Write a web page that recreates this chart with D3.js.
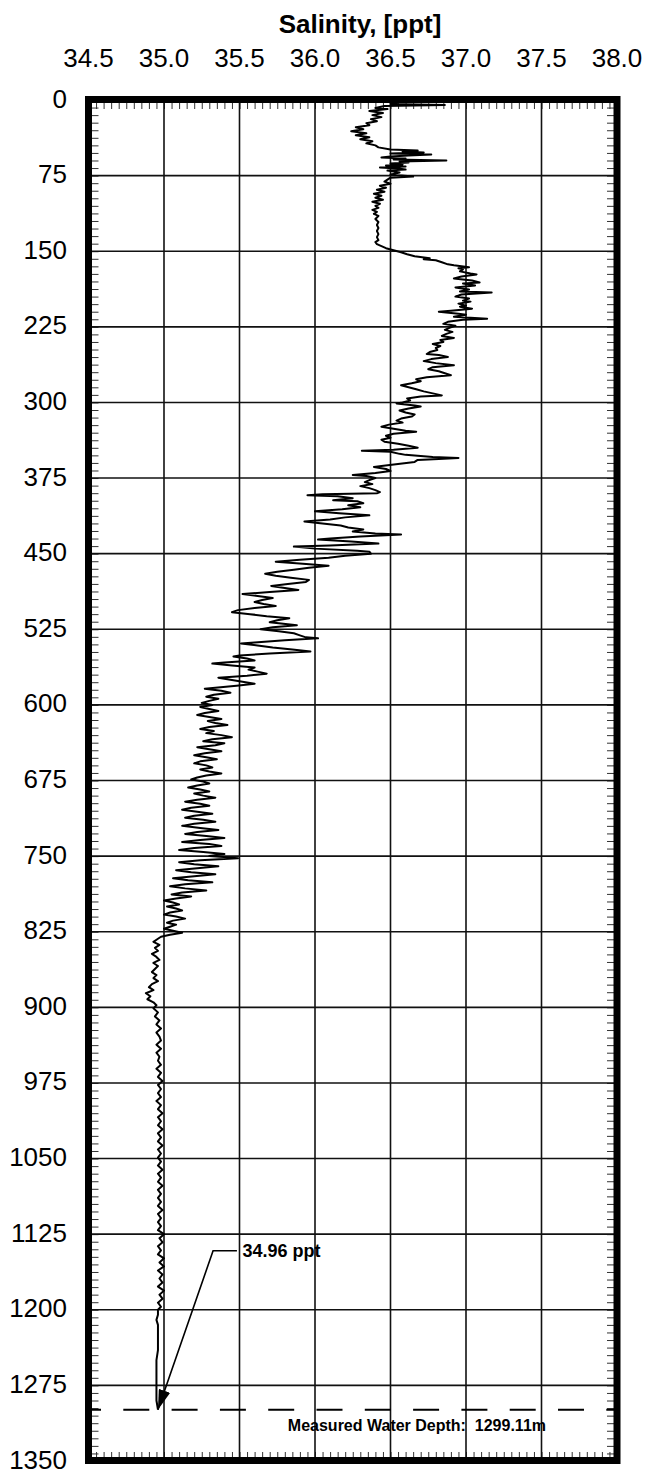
<!DOCTYPE html>
<html>
<head>
<meta charset="utf-8">
<script src="https://cdn.jsdelivr.net/npm/d3@7"></script>
<style>
  body { margin: 0; background: #fff; }
  svg { display: block; font-family: "Liberation Sans", Arial, sans-serif; }
</style>
</head>
<body>
<div id="chart"></div>
<script>
// tick labels
const xTicks = [34.5, 35.0, 35.5, 36.0, 36.5, 37.0, 37.5, 38.0];
const yTicks = [0, 75, 150, 225, 300, 375, 450, 525, 600, 675, 750, 825, 900, 975, 1050, 1125, 1200, 1275, 1350];

// CTD profile: depth (m) and salinity (ppt)
const depthM = [
  0, 2, 4, 5, 6, 8, 9, 11, 13, 15, 17, 19, 21, 23, 25, 27, 29, 31, 33, 35, 37, 39, 41, 43, 45, 47, 49,
  50, 51, 52, 53, 54, 55, 56, 57, 58, 59, 60, 61, 62, 63, 64, 65, 66, 67, 68, 69, 70, 72, 74, 76, 77, 79,
  81, 83, 85, 87, 89, 91, 93, 95, 97, 99, 101, 103, 105, 107, 109, 111, 113, 115, 118, 121, 124, 127,
  130, 133, 136, 139, 141, 143, 145, 147, 149, 151, 153, 155, 157, 158, 159, 161, 163, 164, 165, 166,
  167, 168, 170, 172, 173, 175, 177, 179, 181, 182, 184, 186, 188, 190, 191, 193, 195, 197, 199, 200,
  202, 204, 205, 207, 209, 210, 212, 213, 215, 217, 218, 220, 222, 224, 226, 228, 230, 232, 234, 236,
  238, 240, 242, 244, 246, 248, 250, 252, 253, 255, 257, 259, 261, 263, 265, 267, 269, 271, 273, 275,
  277, 279, 281, 283, 285, 287, 289, 291, 293, 294, 296, 298, 300, 301, 303, 304, 306, 308, 310, 312,
  314, 316, 318, 320, 322, 324, 326, 328, 329, 331, 333, 335, 337, 339, 341, 343, 345, 347, 348, 349,
  351, 352, 354, 355, 356, 357, 359, 361, 363, 364, 366, 368, 370, 372, 373, 375, 377, 379, 381, 383,
  385, 387, 389, 390, 391, 392, 393, 395, 397, 398, 400, 402, 404, 406, 408, 410, 412, 414, 416, 418,
  420, 422, 424, 426, 428, 430, 431, 433, 435, 436, 438, 440, 442, 443, 445, 447, 448, 450, 452, 454,
  456, 458, 460, 462, 464, 466, 468, 470, 472, 474, 476, 478, 480, 482, 484, 486, 488, 490, 492, 494,
  496, 498, 500, 502, 504, 506, 508, 510, 512, 514, 516, 518, 520, 521, 523, 525, 527, 529, 531, 533,
  534, 536, 538, 539, 541, 543, 545, 547, 549, 551, 552, 554, 556, 558, 559, 561, 563, 565, 567, 569,
  571, 573, 575, 577, 579, 581, 583, 584, 586, 588, 590, 592, 594, 596, 598, 600, 602, 604, 606, 608,
  610, 612, 614, 616, 618, 620, 622, 624, 626, 628, 630, 632, 634, 636, 638, 640, 642, 644, 646, 648,
  650, 652, 654, 656, 658, 660, 662, 664, 666, 668, 670, 672, 674, 676, 678, 680, 682, 684, 686, 688,
  690, 692, 694, 696, 698, 700, 702, 704, 706, 708, 710, 712, 714, 716, 718, 720, 722, 724, 726, 728,
  730, 732, 734, 736, 738, 740, 742, 744, 746, 748, 750, 752, 754, 756, 758, 760, 762, 764, 766, 768,
  770, 772, 774, 776, 778, 780, 782, 784, 786, 788, 790, 792, 794, 796, 798, 800, 802, 804, 806, 808,
  810, 812, 814, 816, 818, 820, 822, 824, 826, 828, 830, 832, 835, 838, 841, 844, 847, 850, 853, 856,
  859, 862, 865, 868, 871, 874, 877, 880, 883, 886, 889, 892, 895, 898, 901, 905, 909, 913, 917, 921,
  925, 929, 933, 937, 941, 945, 949, 953, 957, 961, 965, 969, 973, 977, 981, 985, 989, 993, 997, 1001,
  1005, 1009, 1013, 1017, 1021, 1025, 1029, 1033, 1037, 1041, 1045, 1049, 1053, 1057, 1061, 1065, 1069,
  1073, 1077, 1081, 1085, 1089, 1093, 1097, 1101, 1105, 1109, 1113, 1117, 1121, 1125, 1129, 1133, 1137,
  1141, 1145, 1149, 1153, 1157, 1161, 1165, 1169, 1173, 1177, 1181, 1185, 1189, 1193, 1197, 1200, 1205,
  1210, 1215, 1220, 1230, 1240, 1250, 1260, 1270, 1280, 1290, 1299.11
];
const salinityPpt = [
  36.52, 36.55, 36.50, 36.86, 36.46, 36.40, 36.48, 36.36, 36.45, 36.38, 36.44, 36.37, 36.41, 36.34, 36.36, 36.27, 36.32, 36.24, 36.34, 36.27, 36.36, 36.30, 36.38, 36.34, 36.40, 36.42, 36.50,
  36.68, 36.58, 36.72, 36.50, 36.77, 36.62, 36.50, 36.44, 36.60, 36.52, 36.87, 36.56, 36.62, 36.50, 36.58, 36.47, 36.60, 36.43, 36.55, 36.60, 36.48, 36.56, 36.50, 36.65, 36.50, 36.48,
  36.46, 36.50, 36.43, 36.47, 36.41, 36.46, 36.39, 36.44, 36.40, 36.45, 36.38, 36.43, 36.40, 36.42, 36.38, 36.41, 36.39, 36.42, 36.40, 36.42, 36.41, 36.42,
  36.41, 36.42, 36.41, 36.42, 36.40, 36.41, 36.44, 36.47, 36.52, 36.57, 36.61, 36.66, 36.76, 36.72, 36.80, 36.84, 36.88, 36.92, 36.97, 37.02,
  36.95, 36.98, 36.96, 37.03, 37.07, 36.97, 36.92, 37.04, 37.09, 36.98, 37.06, 36.93, 37.02, 36.96, 37.17, 36.97, 36.93, 37.02, 36.98, 37.03,
  36.95, 37.00, 36.96, 37.04, 36.90, 36.82, 36.95, 37.00, 36.92, 37.14, 36.98, 36.88, 36.85, 36.93, 36.89, 36.86, 36.91, 36.87, 36.84, 36.92,
  36.83, 36.85, 36.78, 36.83, 36.80, 36.81, 36.76, 36.74, 36.82, 36.88, 36.77, 36.72, 36.80, 36.92, 36.78, 36.75, 36.82, 36.86, 36.90, 36.74,
  36.67, 36.70, 36.64, 36.57, 36.62, 36.67, 36.72, 36.78, 36.84, 36.70, 36.61, 36.63, 36.58, 36.54, 36.66, 36.70, 36.62, 36.56, 36.60, 36.66,
  36.64, 36.57, 36.54, 36.58, 36.49, 36.44, 36.52, 36.60, 36.67, 36.52, 36.47, 36.50, 36.44, 36.46, 36.55, 36.62, 36.68, 36.52, 36.31, 36.50,
  36.56, 36.60, 36.78, 36.95, 36.82, 36.68, 36.66, 36.55, 36.44, 36.39, 36.47, 36.50, 36.40, 36.25, 36.34, 36.40, 36.36, 36.33, 36.38, 36.30,
  36.36, 36.40, 36.43, 36.41, 36.05, 35.95, 36.15, 36.25, 36.12, 36.28, 36.32, 36.22, 36.30, 36.18, 36.00, 36.16, 36.36, 36.20, 36.10, 35.93,
  36.05, 36.17, 36.22, 36.32, 36.25, 36.40, 36.57, 36.30, 36.10, 36.02, 36.24, 36.42, 36.10, 35.86, 36.00, 36.28, 36.36, 36.37, 36.20, 36.09,
  35.90, 35.74, 35.92, 36.09, 35.96, 35.86, 35.75, 35.67, 35.74, 35.84, 35.96, 35.94, 35.82, 35.71, 35.80, 35.89, 35.70, 35.52, 35.62, 35.72,
  35.65, 35.60, 35.66, 35.74, 35.60, 35.49, 35.45, 35.57, 35.68, 35.83, 35.75, 35.70, 35.82, 35.88, 35.72, 35.64, 35.76, 35.86, 35.90, 35.94,
  36.02, 35.80, 35.60, 35.51, 35.62, 35.72, 35.85, 35.97, 35.70, 35.50, 35.46, 35.55, 35.60, 35.40, 35.32, 35.45, 35.60, 35.56, 35.62, 35.68,
  35.55, 35.36, 35.44, 35.52, 35.60, 35.48, 35.34, 35.27, 35.38, 35.44, 35.33, 35.28, 35.36, 35.30, 35.25, 35.32, 35.24, 35.30, 35.36, 35.27,
  35.22, 35.30, 35.38, 35.29, 35.34, 35.42, 35.30, 35.24, 35.33, 35.28, 35.38, 35.45, 35.32, 35.26, 35.40, 35.34, 35.22, 35.30, 35.38, 35.27,
  35.20, 35.28, 35.35, 35.24, 35.20, 35.28, 35.32, 35.24, 35.30, 35.38, 35.28, 35.22, 35.18, 35.26, 35.30, 35.22, 35.16, 35.24, 35.30, 35.20,
  35.26, 35.34, 35.22, 35.14, 35.24, 35.30, 35.18, 35.12, 35.22, 35.32, 35.20, 35.14, 35.26, 35.34, 35.20, 35.12, 35.24, 35.36, 35.22, 35.14,
  35.28, 35.40, 35.24, 35.12, 35.30, 35.38, 35.20, 35.10, 35.26, 35.40, 35.30, 35.49, 35.24, 35.10, 35.20, 35.36, 35.22, 35.08, 35.18, 35.34,
  35.20, 35.06, 35.16, 35.32, 35.14, 35.04, 35.14, 35.28, 35.12, 35.05, 35.18, 35.08, 35.00, 35.06, 35.10, 35.02, 35.08, 35.12, 35.04, 35.00,
  35.08, 35.14, 35.06, 35.02, 35.08, 35.04, 35.00, 35.06, 35.12, 35.04, 34.98, 34.96, 34.93, 34.97, 34.94, 34.96, 34.92, 34.95, 34.97, 34.93,
  34.96, 34.94, 34.92, 34.95, 34.93, 34.96, 34.92, 34.90, 34.93, 34.88, 34.91, 34.89, 34.93, 34.95, 34.93, 34.96, 34.94, 34.97, 34.95, 34.98,
  34.95, 34.97, 34.98, 34.95, 34.98, 34.95, 34.97, 34.96, 34.98, 34.95, 34.98, 34.96, 34.99, 34.96, 34.98, 34.96, 34.98, 34.95, 34.98, 34.96,
  34.99, 34.96, 34.98, 34.96, 34.99, 34.96, 34.98, 34.96, 34.99, 34.96, 34.98, 34.96, 34.98, 34.96, 34.99, 34.96, 34.98,
  34.96, 34.99, 34.96, 34.98, 34.96, 34.98, 34.96, 34.99, 34.96, 34.98, 34.96, 34.98, 34.96, 35.00, 34.97, 34.99, 34.96,
  34.98, 34.96, 35.00, 34.97, 35.00, 34.96, 34.99, 34.97, 34.99, 34.96, 35.00, 34.97, 34.99, 34.96, 34.98, 34.96, 34.96,
  34.95, 34.96, 34.96, 34.96, 34.96, 34.95, 34.95, 34.95, 34.95, 34.95, 34.96
];

const waterDepth = 1299.11;
const bottomSalinity = 34.96;

const width = 659;
const height = 1469;
const font = '"Liberation Sans", Arial, sans-serif';

const svg = d3.select("#chart").append("svg")
    .attr("width", width)
    .attr("height", height);

const x = d3.scaleLinear().domain([34.5, 38.0]).range([88.5, 617]);
const y = d3.scaleLinear().domain([0, 1350]).range([100, 1461]);

// minor ticks, pointing inward from every side
const minorX = d3.range(34.5, 38.0001, 0.05);
const minorY = d3.range(0, 1350.001, 7.5);

svg.append("g")
    .attr("transform", `translate(0, ${y(0)})`)
    .call(d3.axisBottom(x).tickValues(minorX).tickSize(9).tickFormat(""));
svg.append("g")
    .attr("transform", `translate(0, ${y(1350)})`)
    .call(d3.axisTop(x).tickValues(minorX).tickSize(9).tickFormat(""));
svg.append("g")
    .attr("transform", `translate(${x(34.5)}, 0)`)
    .call(d3.axisRight(y).tickValues(minorY).tickSize(10).tickFormat(""));
svg.append("g")
    .attr("transform", `translate(${x(38.0)}, 0)`)
    .call(d3.axisLeft(y).tickValues(minorY).tickSize(10).tickFormat(""));

svg.selectAll(".tick line").attr("stroke", "#333").attr("stroke-width", 1);
svg.selectAll(".domain").remove();

// grid
svg.append("g").selectAll("line")
    .data(xTicks.slice(1, -1))
    .join("line")
    .attr("x1", d => x(d)).attr("x2", d => x(d))
    .attr("y1", y(0)).attr("y2", y(1350))
    .attr("stroke", "#111").attr("stroke-width", 1.6);
svg.append("g").selectAll("line")
    .data(yTicks.slice(1, -1))
    .join("line")
    .attr("x1", x(34.5)).attr("x2", x(38.0))
    .attr("y1", d => y(d)).attr("y2", d => y(d))
    .attr("stroke", "#111").attr("stroke-width", 1.6);

// measured water depth
svg.append("line")
    .attr("x1", x(34.5)).attr("x2", x(38.0))
    .attr("y1", y(waterDepth)).attr("y2", y(waterDepth))
    .attr("stroke", "#000").attr("stroke-width", 2)
    .attr("stroke-dasharray", "26 22.3")
    .attr("stroke-dashoffset", 13.5);

svg.append("text")
    .attr("x", x(36.675))
    .attr("y", y(waterDepth) + 21)
    .attr("text-anchor", "middle")
    .style("font-family", font)
    .style("font-size", "16px")
    .style("font-weight", "bold")
    .style("white-space", "pre")
    .text("Measured Water Depth:  1299.11m");

// profile
const line = d3.line()
    .x(d => x(d[1]))
    .y(d => y(d[0]));

svg.append("path")
    .datum(d3.zip(depthM, salinityPpt))
    .attr("fill", "none")
    .attr("stroke", "#000")
    .attr("stroke-width", 2)
    .attr("stroke-linejoin", "round")
    .attr("d", line);

// bottom value callout
svg.append("defs").append("marker")
    .attr("id", "arrow")
    .attr("viewBox", "0 0 20 12")
    .attr("refX", 20).attr("refY", 6)
    .attr("markerWidth", 20).attr("markerHeight", 12)
    .attr("markerUnits", "userSpaceOnUse")
    .attr("orient", "auto")
    .append("path")
    .attr("d", "M0,0 L20,6 L0,12 Z")
    .attr("fill", "#000");

const callout = [[35.483, 1141.5], [35.325, 1141.5], [bottomSalinity, waterDepth]];
svg.append("path")
    .datum(callout)
    .attr("fill", "none")
    .attr("stroke", "#000")
    .attr("stroke-width", 1.6)
    .attr("marker-end", "url(#arrow)")
    .attr("d", d3.line().x(d => x(d[0])).y(d => y(d[1])));

svg.append("text")
    .attr("x", x(35.52))
    .attr("y", y(1141.5) + 6)
    .style("font-family", font)
    .style("font-size", "18px")
    .style("font-weight", "bold")
    .text("34.96 ppt");

// frame
svg.append("rect")
    .attr("x", x(34.5)).attr("y", y(0) - 0.5)
    .attr("width", x(38.0) - x(34.5))
    .attr("height", y(1350) - y(0))
    .attr("fill", "none")
    .attr("stroke", "#000")
    .attr("stroke-width", 7);

// tick labels
svg.append("g").selectAll("text")
    .data(xTicks)
    .join("text")
    .attr("x", d => x(d))
    .attr("y", 66.7)
    .attr("text-anchor", "middle")
    .style("font-family", font)
    .style("font-size", "26px")
    .text(d => d.toFixed(1));

svg.append("g").selectAll("text")
    .data(yTicks)
    .join("text")
    .attr("x", 67)
    .attr("y", d => y(d) + 7.5)
    .attr("text-anchor", "end")
    .style("font-family", font)
    .style("font-size", "26px")
    .text(d => d);

// title
svg.append("text")
    .attr("x", 360)
    .attr("y", 32.7)
    .attr("text-anchor", "middle")
    .style("font-family", font)
    .style("font-size", "26px")
    .style("font-weight", "bold")
    .text("Salinity, [ppt]");
</script>
</body>
</html>
